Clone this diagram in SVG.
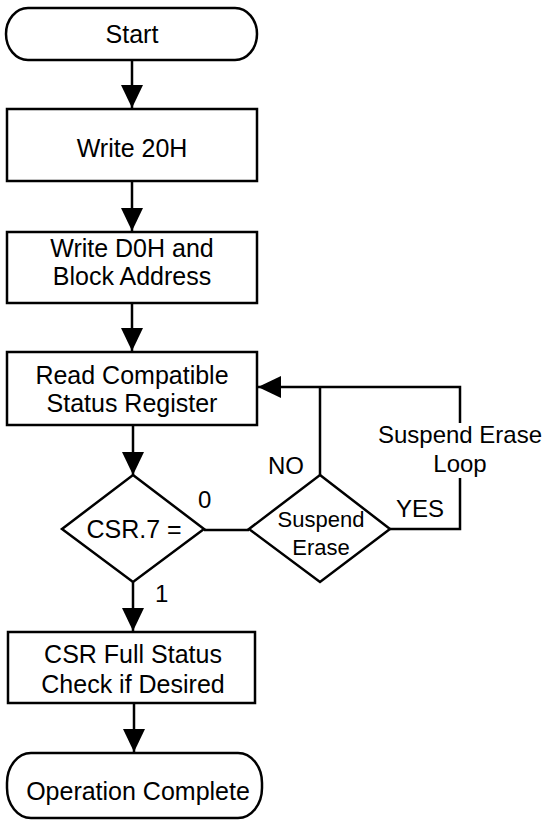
<svg xmlns="http://www.w3.org/2000/svg" width="547" height="824" viewBox="0 0 547 824">
<style>
.shape{fill:#fff;stroke:#000;stroke-width:2.5}
.conn{fill:none;stroke:#000;stroke-width:2.5}
text{font-family:"Liberation Sans",Arial,sans-serif;fill:#000}
.t{font-size:25px;text-anchor:middle}
.s{font-size:22px;text-anchor:middle}
.l{font-size:24px}
</style>
<defs>
<marker id="ah" markerUnits="userSpaceOnUse" markerWidth="24" markerHeight="22" viewBox="0 0 24 22" refX="23" refY="11" orient="auto">
<path d="M0,0 L23,11 L0,22 z" fill="#000"/>
</marker>
</defs>
<rect width="547" height="824" fill="#fff"/>
<g id="connectors">
<path class="conn" d="M132,60 V108" marker-end="url(#ah)"/>
<path class="conn" d="M132,181 V231" marker-end="url(#ah)"/>
<path class="conn" d="M132,303 V351" marker-end="url(#ah)"/>
<path class="conn" d="M133,425 V475" marker-end="url(#ah)"/>
<path class="conn" d="M133,582 V631" marker-end="url(#ah)"/>
<path class="conn" d="M134,703 V752" marker-end="url(#ah)"/>
<path class="conn" d="M204,530 H249"/>
<path class="conn" d="M320,475 V387"/>
<path class="conn" d="M390,529 H460 V478"/>
<path class="conn" d="M460,423 V387 H258" marker-end="url(#ah)"/>
<text class="l" x="198" y="508">0</text>
<text class="l" x="155" y="602">1</text>
<text class="l" x="268" y="474">NO</text>
<text class="l" x="396" y="517">YES</text>
<text class="l" x="460" y="443" text-anchor="middle">Suspend Erase</text>
<text class="l" x="460" y="472" text-anchor="middle">Loop</text>
</g>
<g id="start">
<rect class="shape" x="6" y="8" width="251" height="52" rx="22" ry="26"/>
<text class="t" x="132" y="43">Start</text>
</g>
<g id="write20h">
<rect class="shape" x="7" y="109" width="250" height="72"/>
<text class="t" x="132" y="157">Write 20H</text>
</g>
<g id="writed0h">
<rect class="shape" x="7" y="232" width="250" height="71"/>
<text class="t" x="132" y="257">Write D0H and</text>
<text class="t" x="132" y="285">Block Address</text>
</g>
<g id="readcsr">
<rect class="shape" x="7" y="352" width="250" height="73"/>
<text class="t" x="132" y="384">Read Compatible</text>
<text class="t" x="132" y="412">Status Register</text>
</g>
<g id="csr7">
<path class="shape" d="M133,475 L204,529 L133,582 L62,529 z"/>
<text class="t" x="134" y="538">CSR.7 =</text>
</g>
<g id="suspend">
<path class="shape" d="M320,475 L390,529 L320,582 L249,529 z"/>
<text class="s" x="321" y="527">Suspend</text>
<text class="s" x="321" y="555">Erase</text>
</g>
<g id="fullstatus">
<rect class="shape" x="8" y="632" width="247" height="71"/>
<text class="t" x="133" y="663">CSR Full Status</text>
<text class="t" x="133" y="693">Check if Desired</text>
</g>
<g id="complete">
<rect class="shape" x="7" y="753" width="255" height="65" rx="24" ry="30"/>
<text class="t" x="138" y="800">Operation Complete</text>
</g>
</svg>
